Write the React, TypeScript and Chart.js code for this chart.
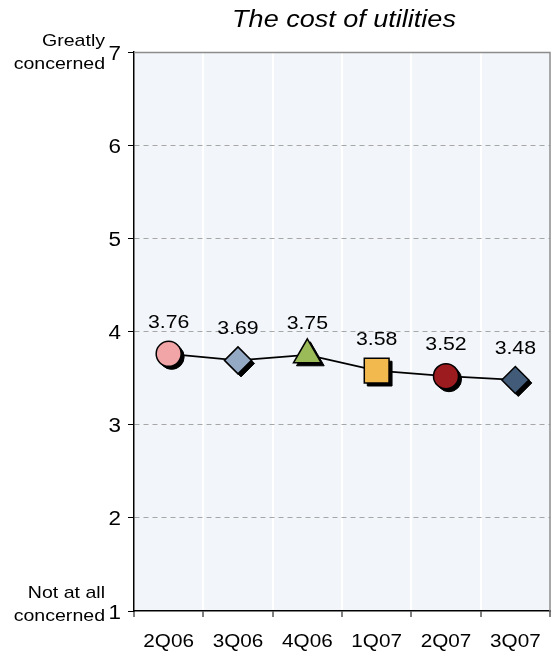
import React, { useEffect, useRef } from "react";
import { Chart, registerables } from "chart.js";
import { drawPoint } from "chart.js/helpers";

Chart.register(...registerables);

// Quarterly mean concern score (1 = not at all, 7 = greatly concerned)
const quarters = ["2Q06", "3Q06", "4Q06", "1Q07", "2Q07", "3Q07"];
const scores = [3.76, 3.69, 3.75, 3.58, 3.52, 3.48];
const markerStyles = ["circle", "rectRot", "triangle", "rect", "circle", "rectRot"];
const markerColors = ["#F2A5A7", "#94A9C3", "#9BBB59", "#F2B94E", "#9C1B1F", "#415B78"];
const markerRadii = [12.5, 13.5, 16, 17.5, 12.5, 13.5];
const yTicks = [1, 2, 3, 4, 5, 6, 7];
const titleText = "The cost of utilities";
const topAnchor = ["Greatly", "concerned"];
const bottomAnchor = ["Not at all", "concerned"];

const FONT = "Arial, 'Liberation Sans', sans-serif";
const STRETCH = 1.15; // wide lettering used throughout the chart

function wideText(ctx: CanvasRenderingContext2D, text: string, x: number, y: number, align: CanvasTextAlign, font: string) {
  ctx.save();
  ctx.font = font;
  ctx.textAlign = align;
  ctx.textBaseline = "alphabetic";
  ctx.fillStyle = "#000";
  ctx.translate(x, y);
  ctx.scale(STRETCH, 1);
  ctx.fillText(text, 0, 0);
  ctx.restore();
}

const decorPlugin = {
  id: "decor",
  beforeDraw(chart: any) {
    const { ctx, chartArea: a } = chart;
    ctx.save();
    ctx.fillStyle = "#F2F6FA";
    ctx.fillRect(a.left, a.top, a.right - a.left, a.bottom - a.top);
    ctx.restore();
  },
  beforeDatasetDraw(chart: any, args: any) {
    // drop shadows behind the markers
    if (args.index !== 1) return;
    const ctx = chart.ctx;
    const meta = chart.getDatasetMeta(1);
    ctx.save();
    ctx.fillStyle = "#000";
    ctx.strokeStyle = "#000";
    meta.data.forEach((pt: any, i: number) => {
      drawPoint(
        ctx,
        { pointStyle: markerStyles[i], radius: markerRadii[i], rotation: 0, borderWidth: 1.5 } as any,
        pt.x + 3,
        pt.y + 3
      );
    });
    ctx.restore();
  },
  afterDraw(chart: any) {
    const { ctx, chartArea: a, scales } = chart;
    ctx.save();
    // top and right frame
    ctx.strokeStyle = "#8C8C8C";
    ctx.lineWidth = 1.5;
    ctx.beginPath();
    ctx.moveTo(a.left, a.top + 0.5);
    ctx.lineTo(a.right, a.top + 0.5);
    ctx.lineTo(a.right, a.bottom);
    ctx.stroke();
    ctx.restore();

    // title
    wideText(ctx, titleText, (a.left + a.right) / 2 + 2, 27, "center", `italic 23.5px ${FONT}`);

    // y tick labels
    yTicks.forEach((v) => {
      wideText(ctx, String(v), 121, scales.y.getPixelForValue(v) + 7.5, "right", `19.5px ${FONT}`);
    });

    // x tick labels
    quarters.forEach((q, i) => {
      wideText(ctx, q, scales.x.getPixelForValue(i), 647, "center", `18px ${FONT}`);
    });

    // scale anchor captions
    const y7 = scales.y.getPixelForValue(7);
    const y1 = scales.y.getPixelForValue(1);
    const capFont = `17px ${FONT}`;
    wideText(ctx, topAnchor[0], 105, y7 - 6, "right", capFont);
    wideText(ctx, topAnchor[1], 105, y7 + 17, "right", capFont);
    wideText(ctx, bottomAnchor[0], 105, y1 - 13, "right", capFont);
    wideText(ctx, bottomAnchor[1], 105, y1 + 10, "right", capFont);

    // value labels above the markers
    const meta = chart.getDatasetMeta(1);
    meta.data.forEach((pt: any, i: number) => {
      wideText(ctx, scores[i].toFixed(2), pt.x, pt.y - 26, "center", `18.5px ${FONT}`);
    });
  },
};

export default function App() {
  const ref = useRef<HTMLCanvasElement>(null);

  useEffect(() => {
    const chart = new Chart(ref.current!, {
      type: "line",
      data: {
        labels: quarters,
        datasets: [
          {
            data: scores,
            borderColor: "#000",
            borderWidth: 1.8,
            pointRadius: 0,
            fill: false,
            tension: 0,
            order: 2,
          },
          {
            data: scores,
            showLine: false,
            pointStyle: markerStyles as any,
            pointRadius: markerRadii,
            pointHoverRadius: markerRadii,
            pointBackgroundColor: markerColors,
            pointBorderColor: "#000",
            pointBorderWidth: 1.5,
            order: 1,
          },
        ],
      },
      options: {
        responsive: false,
        animation: false,
        layout: { autoPadding: false, padding: { top: 52, right: 3, left: 0, bottom: 0 } },
        plugins: {
          legend: { display: false },
          title: { display: false },
          tooltip: { enabled: false },
        },
        scales: {
          x: {
            type: "category",
            offset: true,
            grid: {
              offset: true,
              color: "#FFFFFF",
              lineWidth: 2,
              tickColor: "#000",
              tickLength: 6,
              tickWidth: 1,
            },
            border: { color: "#000", width: 1.5 },
            ticks: {
              color: "rgba(0,0,0,0)",
              font: { family: FONT, size: 18 },
              padding: 9,
              maxRotation: 0,
            },
            afterFit(scale: any) {
              scale.height = 40;
              scale.paddingLeft = 0;
              scale.paddingRight = 0;
            },
          },
          y: {
            min: 1,
            max: 7,
            afterBuildTicks(scale: any) {
              scale.ticks = yTicks.map((v) => ({ value: v }));
            },
            grid: {
              color: (c: any) =>
                c.tick && (c.tick.value === 1 || c.tick.value === 7) ? "rgba(0,0,0,0)" : "#A6A6A6",
              lineWidth: 1,
              tickColor: "#000",
              tickLength: 6,
            },
            border: { color: "#000", width: 1.5, dash: [5, 4] },
            ticks: {
              color: "rgba(0,0,0,0)",
              font: { family: FONT, size: 19 },
              padding: 4,
              callback: (v: any) => String(v),
            },
            afterFit(scale: any) {
              scale.width = 134;
            },
          },
        },
      },
      plugins: [decorPlugin],
    });
    return () => chart.destroy();
  }, []);

  return (
    <div style={{ position: "fixed", left: 0, top: 0, width: 553, height: 651, background: "#fff" }}>
      <canvas ref={ref} width={553} height={651} />
    </div>
  );
}
